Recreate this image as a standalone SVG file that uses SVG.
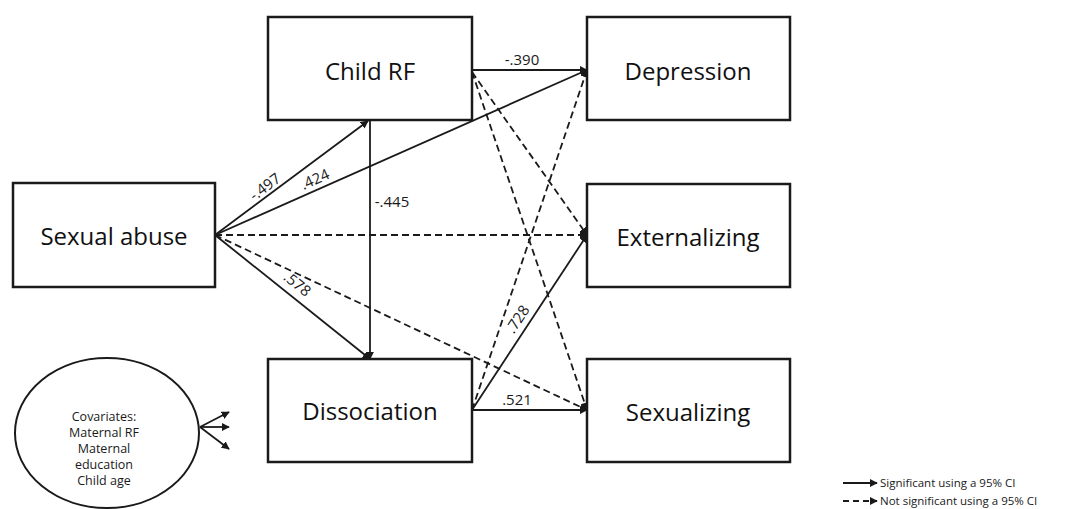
<svg xmlns="http://www.w3.org/2000/svg" width="1077" height="509" viewBox="0 0 1077 509">
<style>
.box{fill:#fff;stroke:#1a1a1a;stroke-width:2.5}
.lbl{font-family:"Open Sans","Noto Sans",sans-serif;font-size:24px;fill:#111;text-anchor:middle}
.el{font-family:"Open Sans","Noto Sans",sans-serif;font-size:15px;fill:#1a1a1a;text-anchor:middle}
.cov{font-family:"Open Sans","Noto Sans",sans-serif;font-size:12.5px;fill:#1a1a1a;text-anchor:middle}
.leg{font-family:"Open Sans","Noto Sans",sans-serif;font-size:11.5px;fill:#1a1a1a}
.s{stroke:#1a1a1a;stroke-width:1.8;fill:none;marker-end:url(#ah)}
.d{stroke:#1a1a1a;stroke-width:1.8;fill:none;stroke-dasharray:7 4;marker-end:url(#ah)}
</style>
<defs>
<marker id="ah" viewBox="0 0 10 10" refX="9" refY="5" markerWidth="4.5" markerHeight="4.5" orient="auto" markerUnits="strokeWidth">
<path d="M0,0 L10,5 L0,10 z" fill="#1a1a1a"/>
</marker>
</defs>
<rect width="1077" height="509" fill="#fff"/>
<g id="connectors">
<line class="s" x1="472" y1="70" x2="587" y2="70"/>
<line class="s" x1="215" y1="235" x2="368" y2="121"/>
<line class="s" x1="215" y1="235" x2="587" y2="70"/>
<line class="s" x1="370" y1="121" x2="370" y2="359"/>
<line class="d" x1="215" y1="235" x2="587" y2="235"/>
<line class="s" x1="215" y1="235" x2="370" y2="359"/>
<line class="d" x1="215" y1="235" x2="587" y2="410"/>
<line class="s" x1="472" y1="410" x2="587" y2="410"/>
<line class="s" x1="472" y1="410" x2="587" y2="235"/>
<line class="d" x1="472" y1="410" x2="587" y2="70"/>
<line class="d" x1="472" y1="72" x2="587" y2="235"/>
<line class="d" x1="472" y1="72" x2="587" y2="410"/>
<line class="s" x1="200" y1="427" x2="229" y2="412"/>
<line class="s" x1="200" y1="427" x2="229" y2="427"/>
<line class="s" x1="200" y1="427" x2="229" y2="449"/>
<text class="el" x="522" y="65">-.390</text>
<text class="el" transform="translate(268,191) rotate(-36.9)">-.497</text>
<text class="el" transform="translate(317,184) rotate(-23.9)">.424</text>
<text class="el" x="392" y="207">-.445</text>
<text class="el" transform="translate(294,288) rotate(38.7)">.578</text>
<text class="el" transform="translate(522,322) rotate(-56.7)">.728</text>
<text class="el" x="517" y="405">.521</text>
</g>
<g id="child-rf"><rect class="box" x="268" y="17" width="204" height="103"/><text class="lbl" x="370" y="80">Child RF</text></g>
<g id="depression"><rect class="box" x="587" y="17" width="203" height="103"/><text class="lbl" x="688" y="80">Depression</text></g>
<g id="sexual-abuse"><rect class="box" x="13" y="183" width="202" height="104"/><text class="lbl" x="114" y="245">Sexual abuse</text></g>
<g id="externalizing"><rect class="box" x="587" y="184" width="203" height="103"/><text class="lbl" x="688" y="246">Externalizing</text></g>
<g id="dissociation"><rect class="box" x="268" y="359" width="204" height="103"/><text class="lbl" x="370" y="420">Dissociation</text></g>
<g id="sexualizing"><rect class="box" x="587" y="359" width="203" height="103"/><text class="lbl" x="688" y="421">Sexualizing</text></g>
<g id="covariates">
<ellipse cx="107" cy="433" rx="92" ry="75" fill="#fff" stroke="#1a1a1a" stroke-width="2"/>
<text class="cov" x="104" y="421">Covariates:</text>
<text class="cov" x="104" y="437">Maternal RF</text>
<text class="cov" x="104" y="453">Maternal</text>
<text class="cov" x="104" y="469">education</text>
<text class="cov" x="104" y="485">Child age</text>
</g>
<g id="legend">
<line class="s" x1="843" y1="483" x2="877" y2="483"/>
<line class="d" x1="843" y1="501" x2="877" y2="501" style="stroke-dasharray:6 4"/>
<text class="leg" x="880" y="487">Significant using a 95% CI</text>
<text class="leg" x="880" y="505">Not significant using a 95% CI</text>
</g>
</svg>
